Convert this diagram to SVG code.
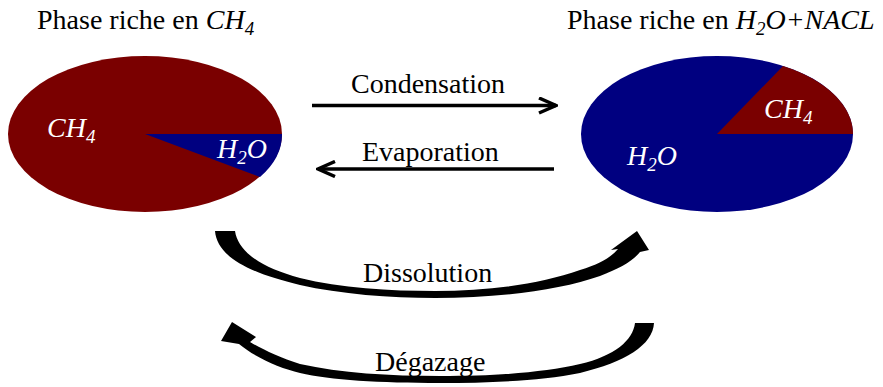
<svg xmlns="http://www.w3.org/2000/svg" width="883" height="387" viewBox="0 0 883 387">
<style>
.t{font-family:'Liberation Serif',Tinos,'Times New Roman',Times,'DejaVu Serif',serif;font-size:28px;fill:#000}
.w{font-family:'Liberation Serif',Tinos,'Times New Roman',Times,'DejaVu Serif',serif;font-size:28px;fill:#fff;font-style:italic}
.i{font-style:italic}
.red{fill:#7a0000}
.blue{fill:#000080}
.ln{stroke:#000;stroke-width:3.5;fill:none}
.cv{fill:#000}
</style>
<defs>
<marker id="chev" viewBox="0 0 20 18" refX="18" refY="9" markerWidth="20" markerHeight="18" markerUnits="userSpaceOnUse" orient="auto">
<path d="M1,1.5 L18,9 L1,16.5" fill="none" stroke="#000" stroke-width="3.5"/>
</marker>
</defs>
<g id="phase-ch4">
<text class="t" x="37" y="29">Phase riche en <tspan class="i">CH<tspan font-size="19" dy="6">4</tspan></tspan></text>
<ellipse class="red" cx="145" cy="134" rx="137" ry="78"/>
<path class="blue" d="M145,134 L282,134 A137,78 0 0,1 260,177 Z"/>
<text class="w" x="47" y="137">CH<tspan font-size="19" dy="6">4</tspan></text>
<text class="w" x="217" y="158">H<tspan font-size="19" dy="6">2</tspan><tspan dy="-6">O</tspan></text>
</g>
<g id="phase-h2o">
<text class="t" x="567" y="29">Phase riche en <tspan class="i">H<tspan font-size="19" dy="6">2</tspan><tspan dy="-6">O+NACL</tspan></tspan></text>
<ellipse class="blue" cx="717" cy="134" rx="136" ry="78"/>
<path class="red" d="M717,134 L853,134 A136,78 0 0,0 783,66 Z"/>
<text class="w" x="764" y="118">CH<tspan font-size="19" dy="6">4</tspan></text>
<text class="w" x="627" y="165">H<tspan font-size="19" dy="6">2</tspan><tspan dy="-6">O</tspan></text>
</g>
<g id="connectors">
<g id="condensation">
<line class="ln" x1="312" y1="105.5" x2="556" y2="105.5" marker-end="url(#chev)"/>
<text class="t" x="351" y="93">Condensation</text>
</g>
<g id="evaporation">
<line class="ln" x1="554" y1="169" x2="318" y2="169" marker-end="url(#chev)"/>
<text class="t" x="362" y="161">Evaporation</text>
</g>
<g id="dissolution">
<path class="cv" d="M215,231 C217,255 245,272 300,285 C340,294 390,298 435,298 C500,298 560,290 600,276 C618,269 632,262 640,252 L649,250 L637,231 L611,250 L618,249 C610,258 600,264 580,270 C540,284 490,291 435,291 C390,291 340,288 300,278 C262,268 238,252 235,231 Z"/>
<text class="t" x="363" y="282">Dissolution</text>
</g>
<g id="degazage">
<path class="cv" d="M654,323 C653,345 625,362 580,373 C540,381 490,383 440,383 C380,383 330,380 300,373 C280,368 256,358 239,344 L221,341 L232,322 L256,337 L250,342 C262,349 280,358 300,364 C340,373 390,376 440,376 C500,376 545,372 580,364 C615,356 633,340 635,323 Z"/>
<text class="t" x="375" y="371">Dégazage</text>
</g>
</g>
</svg>
